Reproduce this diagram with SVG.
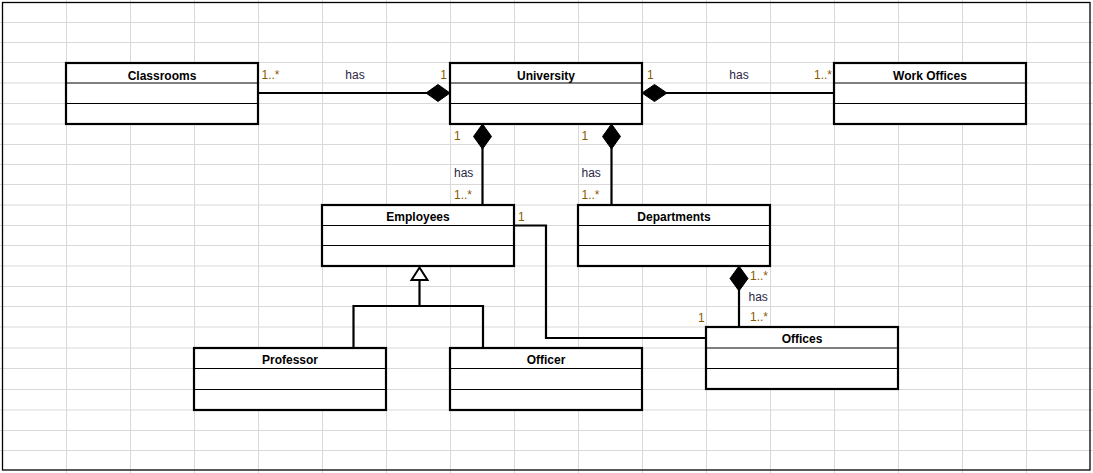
<svg xmlns="http://www.w3.org/2000/svg" width="1093" height="473" viewBox="0 0 1093 473">
<style>
.grid line{stroke:#d9d9d9;stroke-width:1}
.box{fill:#fff;stroke:#000;stroke-width:2.2}
.div{stroke:#000;stroke-width:1.1}
.title{font-family:"Liberation Sans",Arial,sans-serif;font-size:12px;font-weight:bold;fill:#000;text-anchor:middle}
.mult{font-family:"Liberation Sans",Arial,sans-serif;font-size:12px;fill:#8a5a00}
.lbl{font-family:"Liberation Sans",Arial,sans-serif;font-size:12px;fill:#2a1f45}
.conn{fill:none;stroke:#000;stroke-width:2.2}
.dia{fill:#000;stroke:#000;stroke-width:1}
.tri{fill:#fff;stroke:#000;stroke-width:2}
</style>
<rect x="0" y="0" width="1093" height="473" fill="#fff"/>
<g class="grid">
<line x1="66.5" y1="0" x2="66.5" y2="473"/><line x1="130.5" y1="0" x2="130.5" y2="473"/><line x1="194.5" y1="0" x2="194.5" y2="473"/><line x1="258.5" y1="0" x2="258.5" y2="473"/><line x1="322.5" y1="0" x2="322.5" y2="473"/><line x1="386.5" y1="0" x2="386.5" y2="473"/><line x1="450.5" y1="0" x2="450.5" y2="473"/><line x1="514.5" y1="0" x2="514.5" y2="473"/><line x1="578.5" y1="0" x2="578.5" y2="473"/><line x1="642.5" y1="0" x2="642.5" y2="473"/><line x1="706.5" y1="0" x2="706.5" y2="473"/><line x1="770.5" y1="0" x2="770.5" y2="473"/><line x1="834.5" y1="0" x2="834.5" y2="473"/><line x1="898.5" y1="0" x2="898.5" y2="473"/><line x1="962.5" y1="0" x2="962.5" y2="473"/><line x1="1026.5" y1="0" x2="1026.5" y2="473"/>
<line x1="0" y1="22.5" x2="1093" y2="22.5"/><line x1="0" y1="42.5" x2="1093" y2="42.5"/><line x1="0" y1="62.5" x2="1093" y2="62.5"/><line x1="0" y1="83" x2="1093" y2="83"/><line x1="0" y1="103.5" x2="1093" y2="103.5"/><line x1="0" y1="124" x2="1093" y2="124"/><line x1="0" y1="144.5" x2="1093" y2="144.5"/><line x1="0" y1="164.5" x2="1093" y2="164.5"/><line x1="0" y1="184.5" x2="1093" y2="184.5"/><line x1="0" y1="205" x2="1093" y2="205"/><line x1="0" y1="225.5" x2="1093" y2="225.5"/><line x1="0" y1="245.5" x2="1093" y2="245.5"/><line x1="0" y1="266" x2="1093" y2="266"/><line x1="0" y1="286.5" x2="1093" y2="286.5"/><line x1="0" y1="306.5" x2="1093" y2="306.5"/><line x1="0" y1="327" x2="1093" y2="327"/><line x1="0" y1="348" x2="1093" y2="348"/><line x1="0" y1="368.5" x2="1093" y2="368.5"/><line x1="0" y1="389.5" x2="1093" y2="389.5"/><line x1="0" y1="410" x2="1093" y2="410"/><line x1="0" y1="430.5" x2="1093" y2="430.5"/><line x1="0" y1="450.5" x2="1093" y2="450.5"/>
</g>
<rect x="2.5" y="2.5" width="1087.5" height="467.5" fill="none" stroke="#000" stroke-width="1.3"/>

<g id="connectors">
<line class="conn" x1="258" y1="93" x2="427" y2="93"/>
<polygon class="dia" points="426,93 438,84.5 450,93 438,101.5"/>
<line class="conn" x1="666" y1="93" x2="834" y2="93"/>
<polygon class="dia" points="642,93 654.5,84.5 667,93 654.5,101.5"/>
<line class="conn" x1="482.5" y1="148" x2="482.5" y2="205"/>
<polygon class="dia" points="482.5,124 491.5,136.5 482.5,149 473.5,136.5"/>
<line class="conn" x1="611.5" y1="148" x2="611.5" y2="205"/>
<polygon class="dia" points="611.5,124 620.5,136.5 611.5,149 602.5,136.5"/>
<line class="conn" x1="739" y1="290" x2="739" y2="327"/>
<polygon class="dia" points="739,266 748,278.5 739,291 730,278.5"/>
<polyline class="conn" points="514,225.5 546,225.5 546,338 706,338"/>
<polyline class="conn" points="353.5,348 353.5,306 483,306 483,348"/>
<line class="conn" x1="419.5" y1="280" x2="419.5" y2="306"/>
<polygon class="tri" points="419.5,267.5 427.5,280 411.5,280"/>
<text class="mult" x="261.5" y="79">1..*</text>
<text class="lbl" x="355" y="79" text-anchor="middle">has</text>
<text class="mult" x="447" y="79" text-anchor="end">1</text>
<text class="mult" x="647" y="79">1</text>
<text class="lbl" x="739" y="79" text-anchor="middle">has</text>
<text class="mult" x="832" y="79" text-anchor="end">1..*</text>
<text class="mult" x="454" y="140">1</text>
<text class="lbl" x="454" y="177">has</text>
<text class="mult" x="454" y="199">1..*</text>
<text class="mult" x="581.5" y="140">1</text>
<text class="lbl" x="581.5" y="177">has</text>
<text class="mult" x="581.5" y="199">1..*</text>
<text class="mult" x="518" y="220.5">1</text>
<text class="mult" x="750" y="280">1..*</text>
<text class="lbl" x="748.5" y="301">has</text>
<text class="mult" x="750" y="321">1..*</text>
<text class="mult" x="698" y="321.5">1</text>
</g>

<g id="classrooms">
<rect class="box" x="66" y="63" width="192" height="61"/>
<line class="div" x1="66" y1="83" x2="258" y2="83"/><line class="div" x1="66" y1="103.5" x2="258" y2="103.5"/>
<text class="title" x="162" y="79.5">Classrooms</text>
</g>
<g id="university">
<rect class="box" x="450" y="63" width="192" height="61"/>
<line class="div" x1="450" y1="83" x2="642" y2="83"/><line class="div" x1="450" y1="103.5" x2="642" y2="103.5"/>
<text class="title" x="546" y="79.5">University</text>
</g>
<g id="work-offices">
<rect class="box" x="834" y="63" width="192" height="61"/>
<line class="div" x1="834" y1="83" x2="1026" y2="83"/><line class="div" x1="834" y1="103.5" x2="1026" y2="103.5"/>
<text class="title" x="930" y="79.5">Work Offices</text>
</g>
<g id="employees">
<rect class="box" x="322" y="205" width="192" height="61"/>
<line class="div" x1="322" y1="225.5" x2="514" y2="225.5"/><line class="div" x1="322" y1="245.5" x2="514" y2="245.5"/>
<text class="title" x="418" y="221">Employees</text>
</g>
<g id="departments">
<rect class="box" x="578" y="205" width="192" height="61"/>
<line class="div" x1="578" y1="225.5" x2="770" y2="225.5"/><line class="div" x1="578" y1="245.5" x2="770" y2="245.5"/>
<text class="title" x="674" y="221">Departments</text>
</g>
<g id="professor">
<rect class="box" x="194" y="348" width="192" height="62"/>
<line class="div" x1="194" y1="368.5" x2="386" y2="368.5"/><line class="div" x1="194" y1="389.5" x2="386" y2="389.5"/>
<text class="title" x="290" y="364">Professor</text>
</g>
<g id="officer">
<rect class="box" x="450" y="348" width="192" height="62"/>
<line class="div" x1="450" y1="368.5" x2="642" y2="368.5"/><line class="div" x1="450" y1="389.5" x2="642" y2="389.5"/>
<text class="title" x="546" y="364">Officer</text>
</g>
<g id="offices">
<rect class="box" x="706" y="327" width="192" height="62"/>
<line class="div" x1="706" y1="348" x2="898" y2="348"/><line class="div" x1="706" y1="368.5" x2="898" y2="368.5"/>
<text class="title" x="802" y="343">Offices</text>
</g>
</svg>
